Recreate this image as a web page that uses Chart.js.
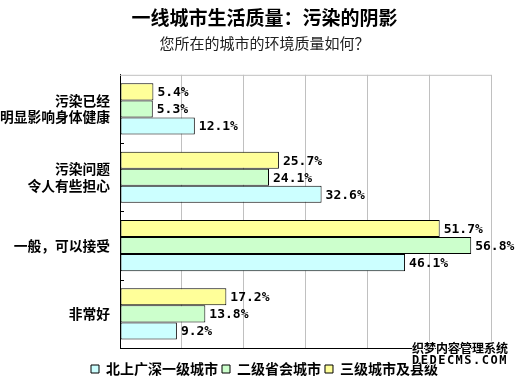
<!DOCTYPE html>
<html>
<head>
<meta charset="utf-8">
<script src="https://cdn.jsdelivr.net/npm/chart.js@4"></script>
<style>
  html, body { margin: 0; padding: 0; background: #fff; }
  #wrap { position: relative; width: 520px; height: 376px; }
  #mark {
    position: absolute; left: 410px; top: 342px; width: 100px;
    font: bold 12px "Noto Sans CJK SC", sans-serif; line-height: 12px; color: #000;
    text-shadow: 1px 0 #fff, -1px 0 #fff, 0 1px #fff, 0 -1px #fff;
    text-align: center;
  }
  #mark span { display: block; font-family: "DejaVu Sans Mono", monospace; letter-spacing: 1.5px; }
</style>
</head>
<body>
<div id="wrap">
  <canvas id="qualityChart" width="520" height="376"></canvas>
  <div id="mark">织梦内容管理系统<span>DEDECMS.COM</span></div>
</div>
<script>
const categories = [
  ['污染已经', '明显影响身体健康'],
  ['污染问题', '令人有些担心'],
  '一般，可以接受',
  '非常好',
]
const tier1 = [12.1, 32.6, 46.1, 9.2]
const provincial = [5.3, 24.1, 56.8, 13.8]
const county = [5.4, 25.7, 51.7, 17.2]
const xTicks = [0, 10, 20, 30, 40, 50, 60]

const valueLabels = {
  id: 'valueLabels',
  afterDatasetsDraw(chart) {
    const ctx = chart.ctx
    ctx.save()
    ctx.font = 'bold 13px "DejaVu Sans Mono", monospace'
    ctx.fillStyle = '#000'
    ctx.textBaseline = 'middle'
    chart.data.datasets.forEach((ds, i) => {
      chart.getDatasetMeta(i).data.forEach((bar, j) => {
        ctx.fillText(ds.data[j].toFixed(1) + '%', bar.x + 4, bar.y + 1)
      })
    })
    ctx.restore()
  },
}

// grey top edge of the plot and the short inner ticks between categories
const frame = {
  id: 'frame',
  beforeDatasetsDraw(chart) {
    const { ctx, chartArea } = chart
    const y = chart.scales.y
    ctx.save()
    ctx.lineWidth = 1
    ctx.strokeStyle = '#c0c0c0'
    ctx.beginPath()
    ctx.moveTo(chartArea.left, chartArea.top + 0.5)
    ctx.lineTo(chartArea.right, chartArea.top + 0.5)
    ctx.stroke()
    ctx.strokeStyle = '#000'
    ctx.beginPath()
    for (let i = 0; i < categories.length - 1; i++) {
      const py = Math.round((y.getPixelForValue(i) + y.getPixelForValue(i + 1)) / 2) + 0.5
      ctx.moveTo(chartArea.left, py)
      ctx.lineTo(chartArea.left + 4, py)
    }
    ctx.stroke()
    ctx.restore()
  },
}

new Chart(document.getElementById('qualityChart'), {
  type: 'bar',
  data: {
    labels: categories,
    datasets: [
      { label: '三级城市及县级', data: county, backgroundColor: '#ffff99' },
      { label: '二级省会城市', data: provincial, backgroundColor: '#ccffcc' },
      { label: '北上广深一级城市', data: tier1, backgroundColor: '#ccffff' },
    ],
  },
  options: {
    indexAxis: 'y',
    responsive: false,
    animation: false,
    datasets: {
      bar: {
        borderColor: '#000',
        borderWidth: 1,
        borderSkipped: false,
        categoryPercentage: 0.75,
        barPercentage: 1,
      },
    },
    layout: { padding: { left: 0, right: -9, top: 0, bottom: -10 } },
    scales: {
      x: {
        min: 0,
        max: 60,
        afterBuildTicks: (axis) => {
          axis.ticks = xTicks.map((v) => ({ value: v }))
        },
        afterFit: (axis) => {
          axis.height = 10
        },
        ticks: { display: false },
        grid: { color: '#c0c0c0', drawTicks: false },
        border: { color: '#000', width: 1 },
      },
      y: {
        afterFit: (axis) => {
          axis.width = 120
        },
        ticks: {
          color: '#000',
          padding: 10,
          font: { family: '"Noto Sans CJK SC", sans-serif', size: 13.75, weight: 'bold', lineHeight: 1.2 },
        },
        grid: { display: false, drawTicks: false, tickLength: 0 },
        border: { color: '#000', width: 1 },
      },
      spare: {
        type: 'linear',
        position: 'right',
        afterFit: (axis) => {
          axis.width = 38
        },
        ticks: { display: false },
        grid: { display: false },
        border: { display: false },
      },
    },
    plugins: {
      title: {
        display: true,
        text: '一线城市生活质量：污染的阴影',
        color: '#000',
        font: { family: '"Noto Sans CJK SC", sans-serif', size: 19, weight: 'bold', lineHeight: 1.2 },
        padding: { top: 6, bottom: 0 },
      },
      subtitle: {
        display: true,
        text: '您所在的城市的环境质量如何？',
        color: '#222',
        font: { family: '"Noto Sans CJK SC", sans-serif', size: 15, weight: 'normal', lineHeight: 1.2 },
        padding: { top: 5, bottom: 23 },
      },
      legend: {
        position: 'bottom',
        reverse: true,
        labels: {
          color: '#000',
          boxWidth: 8,
          boxHeight: 8,
          padding: 4,
          font: { family: '"Noto Sans CJK SC", sans-serif', size: 14, weight: 'bold', lineHeight: 1 },
        },
      },
      tooltip: { enabled: false },
    },
  },
  plugins: [valueLabels, frame],
})
</script>
</body>
</html>
